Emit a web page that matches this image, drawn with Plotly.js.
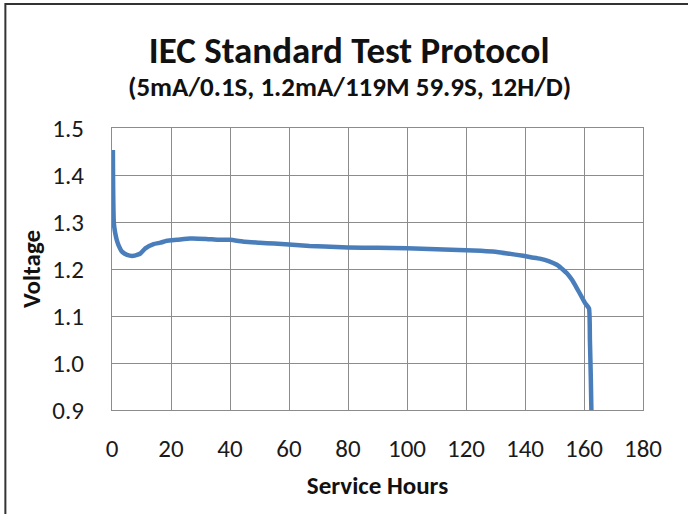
<!DOCTYPE html>
<html>
<head>
<meta charset="utf-8">
<script src="https://cdn.plot.ly/plotly-3.0.1.min.js"></script>
<style>
  html, body { margin: 0; padding: 0; background: #fff; }
  #chart { width: 688px; height: 514px; }
</style>
</head>
<body>
<div id="chart"></div>
<script>
// Service hours (x) and voltage (y)
const hours = [0.3, 0.35, 0.45, 0.6, 0.8, 1.1, 1.6, 2.2, 3.4, 5.1, 7.3, 9.6, 11.3, 14.1, 16.4, 18.6, 22, 26.5, 32, 36, 40, 45, 50, 55, 60, 67, 72, 80, 90, 100, 110, 120, 125, 129, 134, 139.4, 142, 145, 148, 150.8, 153, 154.2, 155.8, 157.6, 159, 160.4, 161.7, 162.0, 162.3, 162.5];
const voltage = [1.453, 1.40, 1.34, 1.30, 1.288, 1.276, 1.262, 1.251, 1.237, 1.230, 1.228, 1.233, 1.244, 1.253, 1.256, 1.260, 1.262, 1.265, 1.264, 1.262, 1.262, 1.258, 1.256, 1.254, 1.252, 1.249, 1.248, 1.246, 1.245, 1.244, 1.242, 1.240, 1.239, 1.237, 1.233, 1.228, 1.225, 1.222, 1.217, 1.209, 1.198, 1.191, 1.178, 1.159, 1.143, 1.127, 1.116, 1.05, 0.97, 0.9];

const xTicks = [0, 20, 40, 60, 80, 100, 120, 140, 160, 180];
const yTicks = [0.9, 1.0, 1.1, 1.2, 1.3, 1.4, 1.5];
const yTickText = ['0.9', '1.0', '1.1', '1.2', '1.3', '1.4', '1.5'];

const FONT = 'Carlito, Lato, "Liberation Sans", sans-serif';

const trace = {
  x: hours,
  y: voltage,
  type: 'scatter',
  mode: 'lines',
  line: { color: '#4A7EBB', width: 4.5, shape: 'spline', smoothing: 0.4 },
  hoverinfo: 'x+y',
  showlegend: false
};

const layout = {
  width: 688,
  height: 514,
  margin: { l: 112, r: 45, t: 128, b: 104 },
  paper_bgcolor: '#ffffff',
  plot_bgcolor: '#ffffff',
  font: { family: FONT, color: '#1a1a1a' },
  title: {
    text: '<b>IEC Standard Test Protocol</b>',
    font: { family: FONT, size: 37, color: '#111' },
    x: 0.5075, xanchor: 'center',
    y: 0.903, yanchor: 'middle', yref: 'container'
  },
  annotations: [{
    text: '<b>(5mA/0.1S, 1.2mA/119M 59.9S, 12H/D)</b>',
    xref: 'paper', yref: 'paper',
    x: 0.447, y: 1.148, xanchor: 'center', yanchor: 'middle',
    showarrow: false,
    font: { family: FONT, size: 27, color: '#111' }
  }],
  xaxis: {
    range: [0, 180],
    tickmode: 'array',
    tickvals: xTicks,
    ticktext: xTicks.map(String),
    showgrid: true, gridcolor: '#8c8c8c', gridwidth: 1,
    showline: true, linecolor: '#8c8c8c', linewidth: 1, mirror: true,
    zeroline: false,
    ticks: 'outside', ticklen: 16, tickcolor: 'rgba(0,0,0,0)',
    tickfont: { family: FONT, size: 25, color: '#1a1a1a' },
    title: { text: '<b>Service Hours</b>', font: { family: FONT, size: 25, color: '#111' }, standoff: 13 }
  },
  yaxis: {
    range: [0.9, 1.5],
    tickmode: 'array',
    tickvals: yTicks,
    ticktext: yTickText,
    showgrid: true, gridcolor: '#8c8c8c', gridwidth: 1,
    showline: true, linecolor: '#8c8c8c', linewidth: 1, mirror: true,
    zeroline: false,
    ticks: 'outside', ticklen: 22, tickcolor: 'rgba(0,0,0,0)',
    tickfont: { family: FONT, size: 25, color: '#1a1a1a' },
    title: { text: '<b>Voltage</b>', font: { family: FONT, size: 25, color: '#111' }, standoff: 4 }
  },
  shapes: [{
    type: 'rect', xref: 'paper', yref: 'paper',
    x0: -0.2008, x1: 1.107, y0: -0.4255, y1: 1.4397,
    line: { color: '#333333', width: 2 },
    fillcolor: 'rgba(0,0,0,0)', layer: 'below'
  }]
};

Plotly.newPlot('chart', [trace], layout, { displayModeBar: false, staticPlot: true });
</script>
</body>
</html>
